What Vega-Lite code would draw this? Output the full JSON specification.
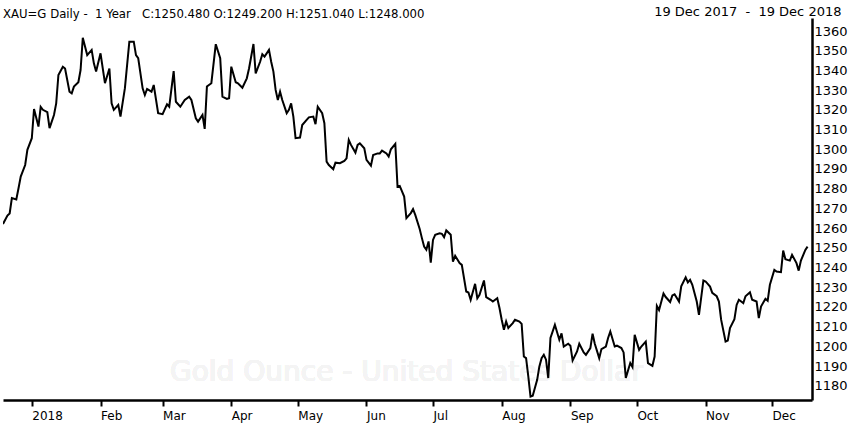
{
  "$schema": "https://vega.github.io/schema/vega-lite/v6.json",
  "width": 809,
  "height": 382,
  "autosize": {"type": "none"},
  "padding": {"left": 3, "top": 18, "right": 38, "bottom": 25},
  "background": "#ffffff",
  "title": {
    "text": "XAU=G Daily -\u00a0 1 Year \u00a0 C:1250.480 O:1249.200 H:1251.040 L:1248.000",
    "anchor": "start",
    "frame": "group",
    "font": "DejaVu Sans Condensed",
    "fontSize": 13,
    "fontWeight": "normal",
    "color": "#000000",
    "baseline": "alphabetic",
    "offset": 2,
    "dy": 28
  },
  "data": {
    "values": [
      {"date": "2017-12-19", "price": 1262.1},
      {"date": "2017-12-21", "price": 1266.3},
      {"date": "2017-12-22", "price": 1267.4},
      {"date": "2017-12-23", "price": 1275.2},
      {"date": "2017-12-25", "price": 1274.5},
      {"date": "2017-12-26", "price": 1280.2},
      {"date": "2017-12-27", "price": 1286.1},
      {"date": "2017-12-29", "price": 1292.0},
      {"date": "2017-12-30", "price": 1299.7},
      {"date": "2018-01-01", "price": 1305.6},
      {"date": "2018-01-02", "price": 1320.4},
      {"date": "2018-01-04", "price": 1311.5},
      {"date": "2018-01-05", "price": 1321.5},
      {"date": "2018-01-06", "price": 1320.0},
      {"date": "2018-01-08", "price": 1318.8},
      {"date": "2018-01-09", "price": 1310.7},
      {"date": "2018-01-11", "price": 1317.4},
      {"date": "2018-01-12", "price": 1323.3},
      {"date": "2018-01-13", "price": 1337.7},
      {"date": "2018-01-15", "price": 1341.9},
      {"date": "2018-01-16", "price": 1341.0},
      {"date": "2018-01-18", "price": 1329.2},
      {"date": "2018-01-19", "price": 1328.4},
      {"date": "2018-01-20", "price": 1331.8},
      {"date": "2018-01-22", "price": 1334.0},
      {"date": "2018-01-23", "price": 1340.2},
      {"date": "2018-01-24", "price": 1356.6},
      {"date": "2018-01-26", "price": 1347.8},
      {"date": "2018-01-28", "price": 1350.4},
      {"date": "2018-01-29", "price": 1343.6},
      {"date": "2018-01-30", "price": 1339.4},
      {"date": "2018-02-01", "price": 1348.7},
      {"date": "2018-02-03", "price": 1333.5},
      {"date": "2018-02-05", "price": 1341.0},
      {"date": "2018-02-06", "price": 1323.3},
      {"date": "2018-02-07", "price": 1320.0},
      {"date": "2018-02-09", "price": 1322.5},
      {"date": "2018-02-10", "price": 1316.6},
      {"date": "2018-02-12", "price": 1331.0},
      {"date": "2018-02-14", "price": 1354.6},
      {"date": "2018-02-16", "price": 1354.6},
      {"date": "2018-02-17", "price": 1347.8},
      {"date": "2018-02-18", "price": 1346.2},
      {"date": "2018-02-20", "price": 1330.9},
      {"date": "2018-02-21", "price": 1327.5},
      {"date": "2018-02-22", "price": 1330.6},
      {"date": "2018-02-24", "price": 1329.2},
      {"date": "2018-02-25", "price": 1332.6},
      {"date": "2018-02-27", "price": 1318.3},
      {"date": "2018-03-01", "price": 1317.8},
      {"date": "2018-03-03", "price": 1322.8},
      {"date": "2018-03-04", "price": 1321.6},
      {"date": "2018-03-06", "price": 1339.7},
      {"date": "2018-03-07", "price": 1324.1},
      {"date": "2018-03-09", "price": 1321.6},
      {"date": "2018-03-11", "price": 1325.0},
      {"date": "2018-03-13", "price": 1326.7},
      {"date": "2018-03-14", "price": 1325.0},
      {"date": "2018-03-16", "price": 1315.7},
      {"date": "2018-03-17", "price": 1314.0},
      {"date": "2018-03-19", "price": 1317.4},
      {"date": "2018-03-20", "price": 1310.3},
      {"date": "2018-03-21", "price": 1331.8},
      {"date": "2018-03-23", "price": 1333.5},
      {"date": "2018-03-25", "price": 1353.3},
      {"date": "2018-03-27", "price": 1346.2},
      {"date": "2018-03-28", "price": 1326.7},
      {"date": "2018-03-30", "price": 1325.5},
      {"date": "2018-03-31", "price": 1325.9},
      {"date": "2018-04-01", "price": 1341.9},
      {"date": "2018-04-03", "price": 1334.0},
      {"date": "2018-04-04", "price": 1333.5},
      {"date": "2018-04-06", "price": 1331.2},
      {"date": "2018-04-08", "price": 1336.0},
      {"date": "2018-04-09", "price": 1341.0},
      {"date": "2018-04-11", "price": 1353.4},
      {"date": "2018-04-12", "price": 1338.5},
      {"date": "2018-04-14", "price": 1344.4},
      {"date": "2018-04-15", "price": 1348.2},
      {"date": "2018-04-16", "price": 1347.0},
      {"date": "2018-04-18", "price": 1350.4},
      {"date": "2018-04-19", "price": 1344.4},
      {"date": "2018-04-20", "price": 1339.4},
      {"date": "2018-04-21", "price": 1330.1},
      {"date": "2018-04-22", "price": 1325.0},
      {"date": "2018-04-23", "price": 1329.2},
      {"date": "2018-04-24", "price": 1325.0},
      {"date": "2018-04-26", "price": 1318.3},
      {"date": "2018-04-27", "price": 1320.0},
      {"date": "2018-04-28", "price": 1323.3},
      {"date": "2018-04-29", "price": 1316.6},
      {"date": "2018-04-30", "price": 1305.6},
      {"date": "2018-05-02", "price": 1305.9},
      {"date": "2018-05-03", "price": 1312.3},
      {"date": "2018-05-05", "price": 1314.9},
      {"date": "2018-05-06", "price": 1316.2},
      {"date": "2018-05-08", "price": 1316.6},
      {"date": "2018-05-09", "price": 1312.7},
      {"date": "2018-05-10", "price": 1321.6},
      {"date": "2018-05-12", "price": 1318.3},
      {"date": "2018-05-13", "price": 1313.2},
      {"date": "2018-05-14", "price": 1293.7},
      {"date": "2018-05-15", "price": 1292.0},
      {"date": "2018-05-17", "price": 1289.9},
      {"date": "2018-05-18", "price": 1293.2},
      {"date": "2018-05-20", "price": 1292.9},
      {"date": "2018-05-22", "price": 1294.1},
      {"date": "2018-05-23", "price": 1295.4},
      {"date": "2018-05-24", "price": 1304.7},
      {"date": "2018-05-25", "price": 1302.2},
      {"date": "2018-05-27", "price": 1298.3},
      {"date": "2018-05-28", "price": 1302.2},
      {"date": "2018-05-29", "price": 1303.0},
      {"date": "2018-05-31", "price": 1300.5},
      {"date": "2018-06-01", "price": 1294.6},
      {"date": "2018-06-03", "price": 1291.7},
      {"date": "2018-06-04", "price": 1297.1},
      {"date": "2018-06-06", "price": 1297.9},
      {"date": "2018-06-07", "price": 1297.9},
      {"date": "2018-06-08", "price": 1299.3},
      {"date": "2018-06-10", "price": 1297.9},
      {"date": "2018-06-11", "price": 1296.3},
      {"date": "2018-06-12", "price": 1300.0},
      {"date": "2018-06-14", "price": 1302.7},
      {"date": "2018-06-15", "price": 1281.0},
      {"date": "2018-06-16", "price": 1281.4},
      {"date": "2018-06-18", "price": 1276.0},
      {"date": "2018-06-19", "price": 1265.0},
      {"date": "2018-06-21", "price": 1267.6},
      {"date": "2018-06-22", "price": 1269.6},
      {"date": "2018-06-23", "price": 1266.7},
      {"date": "2018-06-25", "price": 1259.5},
      {"date": "2018-06-26", "price": 1254.9},
      {"date": "2018-06-27", "price": 1250.6},
      {"date": "2018-06-28", "price": 1249.0},
      {"date": "2018-06-29", "price": 1253.2},
      {"date": "2018-06-30", "price": 1242.5},
      {"date": "2018-07-01", "price": 1254.0},
      {"date": "2018-07-02", "price": 1256.6},
      {"date": "2018-07-04", "price": 1257.4},
      {"date": "2018-07-05", "price": 1257.1},
      {"date": "2018-07-06", "price": 1255.4},
      {"date": "2018-07-07", "price": 1258.8},
      {"date": "2018-07-09", "price": 1256.6},
      {"date": "2018-07-10", "price": 1243.0},
      {"date": "2018-07-11", "price": 1245.9},
      {"date": "2018-07-13", "price": 1242.2},
      {"date": "2018-07-14", "price": 1241.3},
      {"date": "2018-07-16", "price": 1227.8},
      {"date": "2018-07-17", "price": 1227.3},
      {"date": "2018-07-18", "price": 1223.6},
      {"date": "2018-07-20", "price": 1231.7},
      {"date": "2018-07-21", "price": 1224.4},
      {"date": "2018-07-22", "price": 1226.1},
      {"date": "2018-07-24", "price": 1233.4},
      {"date": "2018-07-25", "price": 1225.0},
      {"date": "2018-07-27", "price": 1223.6},
      {"date": "2018-07-28", "price": 1222.7},
      {"date": "2018-07-30", "price": 1224.4},
      {"date": "2018-07-31", "price": 1219.4},
      {"date": "2018-08-01", "price": 1213.5},
      {"date": "2018-08-02", "price": 1208.4},
      {"date": "2018-08-03", "price": 1212.6},
      {"date": "2018-08-04", "price": 1209.3},
      {"date": "2018-08-06", "price": 1211.8},
      {"date": "2018-08-07", "price": 1213.5},
      {"date": "2018-08-09", "price": 1212.6},
      {"date": "2018-08-10", "price": 1211.4},
      {"date": "2018-08-11", "price": 1194.8},
      {"date": "2018-08-12", "price": 1194.0},
      {"date": "2018-08-13", "price": 1184.7},
      {"date": "2018-08-14", "price": 1174.5},
      {"date": "2018-08-15", "price": 1174.9},
      {"date": "2018-08-17", "price": 1183.0},
      {"date": "2018-08-18", "price": 1189.8},
      {"date": "2018-08-19", "price": 1194.0},
      {"date": "2018-08-20", "price": 1195.7},
      {"date": "2018-08-21", "price": 1193.2},
      {"date": "2018-08-22", "price": 1183.9},
      {"date": "2018-08-23", "price": 1204.2},
      {"date": "2018-08-25", "price": 1210.9},
      {"date": "2018-08-27", "price": 1203.3},
      {"date": "2018-08-28", "price": 1206.6},
      {"date": "2018-08-29", "price": 1199.9},
      {"date": "2018-08-31", "price": 1201.3},
      {"date": "2018-09-01", "price": 1200.3},
      {"date": "2018-09-02", "price": 1192.8},
      {"date": "2018-09-04", "price": 1197.4},
      {"date": "2018-09-05", "price": 1201.3},
      {"date": "2018-09-07", "price": 1196.9},
      {"date": "2018-09-08", "price": 1195.7},
      {"date": "2018-09-10", "price": 1199.1},
      {"date": "2018-09-11", "price": 1206.4},
      {"date": "2018-09-12", "price": 1201.3},
      {"date": "2018-09-14", "price": 1194.0},
      {"date": "2018-09-15", "price": 1198.6},
      {"date": "2018-09-17", "price": 1199.9},
      {"date": "2018-09-18", "price": 1204.2},
      {"date": "2018-09-19", "price": 1207.5},
      {"date": "2018-09-21", "price": 1199.9},
      {"date": "2018-09-22", "price": 1200.3},
      {"date": "2018-09-24", "price": 1199.1},
      {"date": "2018-09-25", "price": 1196.9},
      {"date": "2018-09-26", "price": 1183.9},
      {"date": "2018-09-28", "price": 1191.5},
      {"date": "2018-09-29", "price": 1189.5},
      {"date": "2018-09-30", "price": 1205.8},
      {"date": "2018-10-02", "price": 1198.2},
      {"date": "2018-10-03", "price": 1199.9},
      {"date": "2018-10-05", "price": 1202.4},
      {"date": "2018-10-06", "price": 1191.5},
      {"date": "2018-10-08", "price": 1190.1},
      {"date": "2018-10-09", "price": 1194.8},
      {"date": "2018-10-10", "price": 1220.5},
      {"date": "2018-10-11", "price": 1218.4},
      {"date": "2018-10-13", "price": 1226.8},
      {"date": "2018-10-14", "price": 1225.0},
      {"date": "2018-10-16", "price": 1222.5},
      {"date": "2018-10-17", "price": 1225.8},
      {"date": "2018-10-18", "price": 1226.4},
      {"date": "2018-10-20", "price": 1222.7},
      {"date": "2018-10-21", "price": 1230.4},
      {"date": "2018-10-23", "price": 1235.0},
      {"date": "2018-10-24", "price": 1232.4},
      {"date": "2018-10-25", "price": 1233.7},
      {"date": "2018-10-26", "price": 1231.2},
      {"date": "2018-10-28", "price": 1222.7},
      {"date": "2018-10-29", "price": 1216.0},
      {"date": "2018-10-31", "price": 1233.4},
      {"date": "2018-11-01", "price": 1232.9},
      {"date": "2018-11-03", "price": 1230.3},
      {"date": "2018-11-04", "price": 1227.1},
      {"date": "2018-11-06", "price": 1225.4},
      {"date": "2018-11-07", "price": 1222.7},
      {"date": "2018-11-08", "price": 1213.5},
      {"date": "2018-11-10", "price": 1202.4},
      {"date": "2018-11-11", "price": 1202.9},
      {"date": "2018-11-12", "price": 1209.3},
      {"date": "2018-11-14", "price": 1213.8},
      {"date": "2018-11-15", "price": 1221.0},
      {"date": "2018-11-16", "price": 1223.6},
      {"date": "2018-11-18", "price": 1221.9},
      {"date": "2018-11-19", "price": 1225.4},
      {"date": "2018-11-21", "price": 1227.4},
      {"date": "2018-11-22", "price": 1223.6},
      {"date": "2018-11-24", "price": 1222.7},
      {"date": "2018-11-25", "price": 1214.3},
      {"date": "2018-11-26", "price": 1220.2},
      {"date": "2018-11-28", "price": 1224.1},
      {"date": "2018-11-29", "price": 1223.1},
      {"date": "2018-11-30", "price": 1231.2},
      {"date": "2018-12-02", "price": 1238.8},
      {"date": "2018-12-03", "price": 1237.9},
      {"date": "2018-12-05", "price": 1237.6},
      {"date": "2018-12-06", "price": 1248.6},
      {"date": "2018-12-07", "price": 1244.2},
      {"date": "2018-12-09", "price": 1243.5},
      {"date": "2018-12-10", "price": 1246.4},
      {"date": "2018-12-12", "price": 1242.2},
      {"date": "2018-12-13", "price": 1238.4},
      {"date": "2018-12-14", "price": 1243.5},
      {"date": "2018-12-16", "price": 1248.9},
      {"date": "2018-12-17", "price": 1250.6}
    ]
  },
  "encoding": {
    "x": {
      "field": "date",
      "type": "temporal",
      "scale": {
        "type": "utc",
        "domain": [
          {"year": 2017, "month": 12, "date": 19, "utc": true},
          {"year": 2018, "month": 12, "date": 19, "utc": true}
        ]
      },
      "axis": {
        "title": null,
        "grid": false,
        "tickCount": {"interval": "month", "step": 1},
        "labelExpr": "utcFormat(datum.value, '%m') == '01' ? utcFormat(datum.value, '%Y') : utcFormat(datum.value, '%b')",
        "labelAlign": "left",
        "labelPadding": 4,
        "labelFontSize": 12,
        "labelColor": "#000000",
        "tickSize": 6,
        "tickWidth": 2,
        "tickColor": "#000000",
        "domainColor": "#000000",
        "domainWidth": 2.5,
        "labelFlush": false,
        "labelOverlap": false
      }
    },
    "y": {
      "field": "price",
      "type": "quantitative",
      "scale": {"domain": [1172.75, 1366.6], "nice": false, "zero": false},
      "axis": {
        "orient": "right",
        "title": "19 Dec 2017 \u00a0-\u00a0 19 Dec 2018",
        "titleAngle": 0,
        "titleAlign": "right",
        "titleBaseline": "alphabetic",
        "titleX": 29,
        "titleY": -3,
        "titleFontSize": 13,
        "titleFontWeight": "normal",
        "titleColor": "#000000",
        "grid": false,
        "ticks": false,
        "format": "d",
        "values": [1180, 1190, 1200, 1210, 1220, 1230, 1240, 1250, 1260, 1270, 1280, 1290, 1300, 1310, 1320, 1330, 1340, 1350, 1360],
        "labelPadding": 2,
        "labelFontSize": 13,
        "labelColor": "#000000",
        "labelBaseline": "middle",
        "domainColor": "#000000",
        "domainWidth": 2.5
      }
    }
  },
  "layer": [
    {
      "mark": {
        "type": "text",
        "text": "Gold Ounce - United States Dollar",
        "fontSize": 28,
        "fontWeight": "normal",
        "color": "#f4f4f4",
        "align": "center",
        "baseline": "middle"
      },
      "encoding": {
        "x": {"datum": {"year": 2018, "month": 6, "date": 19, "utc": true}, "type": "temporal"},
        "y": {"datum": 1186.6, "type": "quantitative"}
      }
    },
    {
      "mark": {"type": "line", "color": "#000000", "strokeWidth": 2, "clip": true},
      "encoding": {}
    }
  ],
  "config": {
    "font": "DejaVu Sans",
    "view": {"stroke": null},
    "axis": {"labelFont": "DejaVu Sans", "titleFont": "DejaVu Sans"}
  }
}
